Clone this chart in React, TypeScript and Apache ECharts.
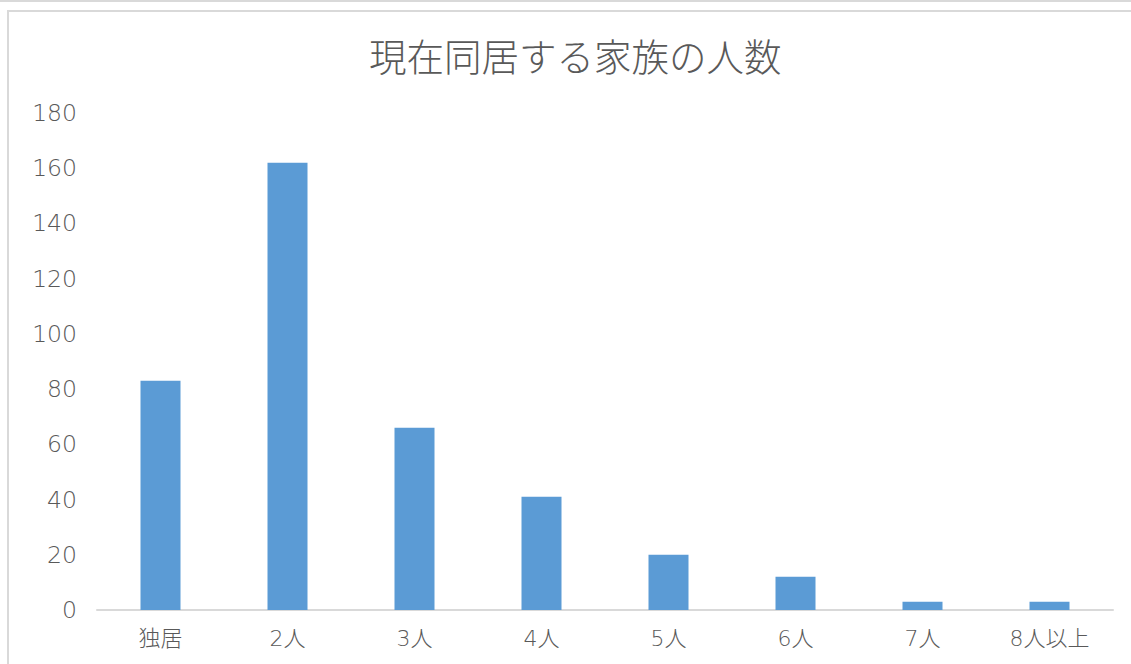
import React, { useEffect, useRef } from "react";
import * as echarts from "echarts";

const categories = ["独居", "2人", "3人", "4人", "5人", "6人", "7人", "8人以上"];
const counts = [83, 162, 66, 41, 20, 12, 3, 3];
const titleText = "現在同居する家族の人数";

const FONT = '"Noto Sans CJK JP", "Noto Sans", sans-serif';
const NUMFONT = '"DejaVu Sans", "Noto Sans CJK JP", sans-serif';

export default function App() {
  const ref = useRef<HTMLDivElement>(null);
  useEffect(() => {
    if (!ref.current) return;
    const chart = echarts.init(ref.current, undefined, { renderer: "svg" });
    chart.setOption({
      animation: false,
      backgroundColor: "#ffffff",
      title: {
        text: titleText,
        left: 364,
        top: 31,
        textStyle: { fontFamily: FONT, fontSize: 37.5, fontWeight: 300, color: "#595959" },
      },
      graphic: [
        { type: "rect", shape: { x: 0, y: 0, width: 1131, height: 2 }, style: { fill: "#d9d9d9" }, silent: true },
        { type: "rect", shape: { x: 7, y: 10, width: 1124, height: 2 }, style: { fill: "#d9d9d9" }, silent: true },
        { type: "rect", shape: { x: 7, y: 10, width: 2, height: 654 }, style: { fill: "#d9d9d9" }, silent: true },
      ],
      grid: { left: 97, right: 18, top: 113, bottom: 54, containLabel: false },
      xAxis: {
        type: "category",
        data: categories,
        axisLine: { lineStyle: { color: "#d9d9d9", width: 2 } },
        axisTick: { show: false },
        axisLabel: { fontFamily: NUMFONT, fontSize: 22, fontWeight: 200, color: "#595959", margin: 17 },
      },
      yAxis: {
        type: "value",
        min: 0,
        max: 180,
        interval: 20,
        axisLine: { show: false },
        axisTick: { show: false },
        splitLine: { show: false },
        axisLabel: { fontFamily: NUMFONT, fontSize: 23.5, fontWeight: 200, color: "#595959", margin: 20 },
      },
      series: [
        {
          type: "bar",
          data: counts,
          barWidth: "31.5%",
          itemStyle: { color: "#5b9bd5" },
        },
      ],
    });
    return () => chart.dispose();
  }, []);
  return (
    <div
      ref={ref}
      style={{ position: "fixed", left: 0, top: 0, width: 1131, height: 664 }}
    />
  );
}
